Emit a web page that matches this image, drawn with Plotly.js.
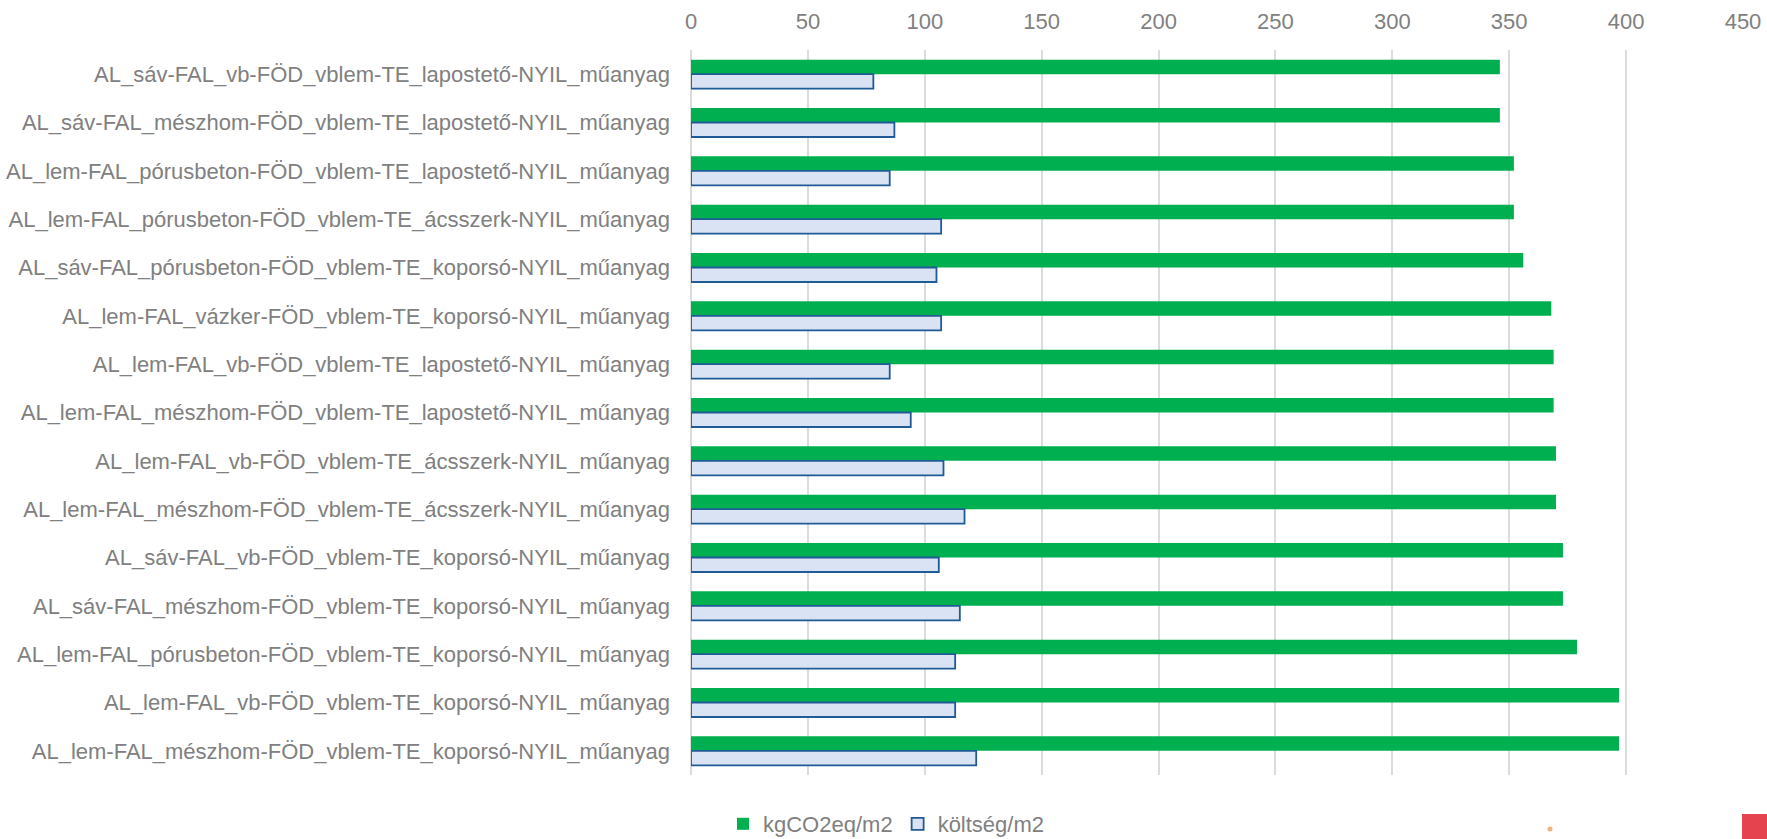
<!DOCTYPE html>
<html>
<head>
<meta charset="utf-8">
<script src="https://cdn.plot.ly/plotly-3.0.1.min.js"></script>
<style>
  html, body { margin: 0; padding: 0; background: #fff; }
  #chart { width: 1767px; height: 839px; }
</style>
</head>
<body>
<div id="chart"></div>
<script>
// Categories, top to bottom as shown
const categories = [
  "AL_sáv-FAL_vb-FÖD_vblem-TE_lapostető-NYIL_műanyag",
  "AL_sáv-FAL_mészhom-FÖD_vblem-TE_lapostető-NYIL_műanyag",
  "AL_lem-FAL_pórusbeton-FÖD_vblem-TE_lapostető-NYIL_műanyag",
  "AL_lem-FAL_pórusbeton-FÖD_vblem-TE_ácsszerk-NYIL_műanyag",
  "AL_sáv-FAL_pórusbeton-FÖD_vblem-TE_koporsó-NYIL_műanyag",
  "AL_lem-FAL_vázker-FÖD_vblem-TE_koporsó-NYIL_műanyag",
  "AL_lem-FAL_vb-FÖD_vblem-TE_lapostető-NYIL_műanyag",
  "AL_lem-FAL_mészhom-FÖD_vblem-TE_lapostető-NYIL_műanyag",
  "AL_lem-FAL_vb-FÖD_vblem-TE_ácsszerk-NYIL_műanyag",
  "AL_lem-FAL_mészhom-FÖD_vblem-TE_ácsszerk-NYIL_műanyag",
  "AL_sáv-FAL_vb-FÖD_vblem-TE_koporsó-NYIL_műanyag",
  "AL_sáv-FAL_mészhom-FÖD_vblem-TE_koporsó-NYIL_műanyag",
  "AL_lem-FAL_pórusbeton-FÖD_vblem-TE_koporsó-NYIL_műanyag",
  "AL_lem-FAL_vb-FÖD_vblem-TE_koporsó-NYIL_műanyag",
  "AL_lem-FAL_mészhom-FÖD_vblem-TE_koporsó-NYIL_műanyag"
];

const seriesNames = ["kgCO2eq/m2", "költség/m2"];

const co2Values  = [346, 346, 352, 352, 356, 368, 369, 369, 370, 370, 373, 373, 379, 397, 397];
const costValues = [78, 87, 85, 107, 105, 107, 85, 94, 108, 117, 106, 115, 113, 113, 122];

const xTickVals = [0, 50, 100, 150, 200, 250, 300, 350, 400, 450];

const FONT = "'Liberation Sans', Arial, sans-serif";
const GREY = "#808080";

const traces = [
  {
    type: "bar",
    orientation: "h",
    name: seriesNames[0],
    y: categories,
    x: co2Values,
    marker: { color: "#00b050", line: { width: 0 } },
    hoverinfo: "x+y"
  },
  {
    type: "bar",
    orientation: "h",
    name: seriesNames[1],
    y: categories,
    x: costValues,
    marker: { color: "#dae3f3", line: { color: "#1f5b96", width: 1.8 } },
    hoverinfo: "x+y"
  }
];

const W = 1767, H = 839;
const L = 691, R = 24, T = 50, B = 64;
const pw = W - L - R, ph = H - T - B;
const px = v => (v - L) / pw;
const py = v => (H - B - v) / ph;

const layout = {
  width: W,
  height: H,
  margin: { l: L, r: R, t: T, b: B, pad: 0, autoexpand: false },
  paper_bgcolor: "#ffffff",
  plot_bgcolor: "#ffffff",
  font: { family: FONT, size: 22, color: GREY },
  barmode: "group",
  bargap: 0.4,
  bargroupgap: 0,
  showlegend: true,
  legend: {
    orientation: "h",
    x: px(723),
    xanchor: "left",
    y: py(824),
    yanchor: "middle",
    font: { family: FONT, size: 22, color: GREY },
    bgcolor: "rgba(0,0,0,0)",
    itemclick: false,
    tracegroupgap: 0
  },
  xaxis: {
    side: "top",
    range: [0, 450],
    tickvals: xTickVals,
    ticktext: xTickVals.map(String),
    showgrid: true,
    gridcolor: "#dcdcdc",
    gridwidth: 1.5,
    zeroline: true,
    zerolinecolor: "#dcdcdc",
    zerolinewidth: 1.5,
    showline: false,
    ticks: "",
    ticklabelstandoff: 16,
    tickfont: { family: FONT, size: 22, color: GREY },
    fixedrange: true
  },
  yaxis: {
    type: "category",
    autorange: "reversed",
    showgrid: false,
    zeroline: false,
    showline: false,
    ticks: "",
    ticklabelstandoff: 20,
    tickfont: { family: FONT, size: 22, color: GREY },
    automargin: false,
    fixedrange: true
  },
  shapes: [
    {
      type: "rect", xref: "paper", yref: "paper",
      x0: px(1742), x1: px(1767), y0: py(814), y1: py(839),
      fillcolor: "#e5444f", line: { width: 0 }, layer: "above"
    },
    {
      type: "circle", xref: "paper", yref: "paper",
      x0: px(1547.5), x1: px(1552.5), y0: py(826.5), y1: py(831.5),
      fillcolor: "#f4b183", line: { width: 0 }, layer: "above"
    }
  ]
};

Plotly.newPlot("chart", traces, layout, { displayModeBar: false, responsive: false });
</script>
</body>
</html>
